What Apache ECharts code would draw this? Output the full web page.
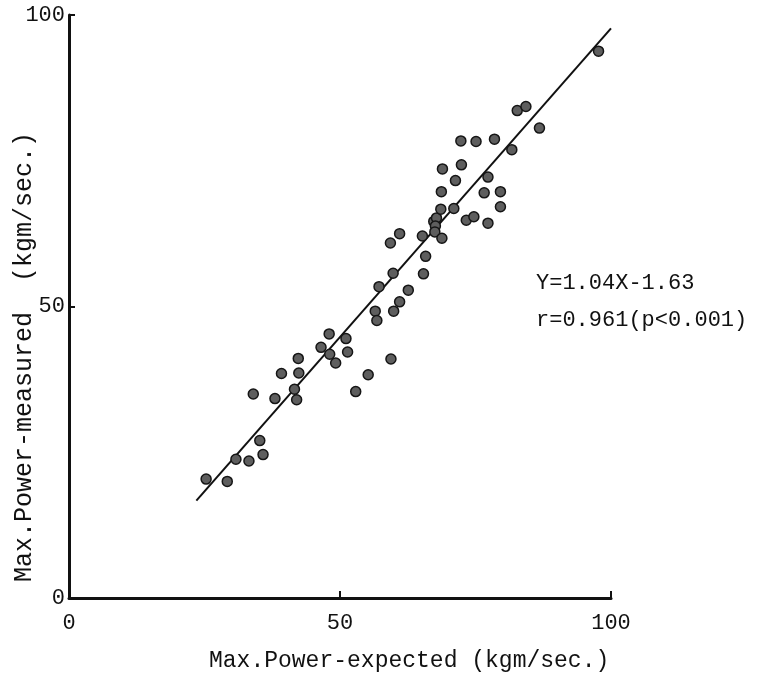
<!DOCTYPE html>
<html>
<head>
<meta charset="utf-8">
<script src="https://cdn.jsdelivr.net/npm/echarts@6/dist/echarts.min.js"></script>
<style>
html,body{margin:0;padding:0;background:#fff;}
#chart{width:760px;height:675px;}
</style>
</head>
<body>
<div id="chart"></div>
<script>
// Expected max power (x) and measured max power (y), kgm/sec.
const expected = [25.3,29.2,30.8,33.2,35.2,35.8,34.0,38.0,39.2,41.6,42.0,42.4,42.3,46.5,48.0,48.1,49.2,51.1,51.4,52.9,55.2,56.5,56.8,57.2,59.4,59.3,59.8,59.9,61.0,61.0,62.6,65.4,65.8,65.2,67.3,67.8,67.6,67.5,68.8,68.6,68.7,68.9,71.0,71.3,72.4,72.3,73.3,74.7,75.1,76.6,77.3,77.3,78.5,79.6,79.6,81.7,82.7,84.3,86.8,97.7];
const measured = [20.4,20.0,23.8,23.5,27.0,24.6,35.0,34.2,38.5,35.8,34.0,38.6,41.1,43.0,45.3,41.8,40.3,44.5,42.2,35.4,38.3,49.2,47.6,53.4,41.0,60.9,55.7,49.2,50.8,62.5,52.8,55.6,58.6,62.1,64.6,65.2,63.8,62.8,61.7,66.7,69.7,73.6,66.8,71.6,74.3,78.4,64.8,65.4,78.3,69.5,72.2,64.3,78.7,69.7,67.1,76.9,83.6,84.3,80.6,93.8];
// Regression line end points (as drawn)
const fitX = [23.5, 100];
const fitY = [16.7, 97.7];
const xTicks = [0, 50, 100];
const yTicks = [0, 50, 100];
const xTitle = 'Max.Power-expected (kgm/sec.)';
const yTitle = 'Max.Power-measured  (kgm/sec.)';
const eqLines = ['Y=1.04X-1.63', 'r=0.961(p<0.001)'];

const FONT = '"Liberation Mono", "DejaVu Sans Mono", monospace';
const points = expected.map((x, i) => [x, measured[i]]);
const fit = fitX.map((x, i) => [x, fitY[i]]);

const chart = echarts.init(document.getElementById('chart'), null, {renderer: 'canvas'});
chart.setOption({
  animation: false,
  backgroundColor: '#ffffff',
  grid: {left: 69, right: 149, top: 15, bottom: 77, containLabel: false},
  xAxis: {
    type: 'value', min: 0, max: 100, interval: 50,
    axisLine: {show: true, lineStyle: {color: '#111', width: 3}},
    axisTick: {show: true, inside: true, length: 7, lineStyle: {color: '#111', width: 2}},
    axisLabel: {color: '#111', fontFamily: FONT, fontSize: 22, margin: 14,
      formatter: v => xTicks.includes(v) ? String(v) : ''},
    splitLine: {show: false}
  },
  yAxis: {
    type: 'value', min: 0, max: 100, interval: 50,
    axisLine: {show: true, lineStyle: {color: '#111', width: 3}},
    axisTick: {show: true, inside: true, length: 6, lineStyle: {color: '#111', width: 2}},
    axisLabel: {color: '#111', fontFamily: FONT, fontSize: 22, margin: 4,
      formatter: v => yTicks.includes(v) ? String(v) : ''},
    splitLine: {show: false}
  },
  series: [
    {
      type: 'line', data: fit, showSymbol: false, symbol: 'none',
      lineStyle: {color: '#111', width: 2}, z: 2, silent: true
    },
    {
      type: 'scatter', data: points, symbol: 'circle', symbolSize: 10,
      itemStyle: {color: '#5e5e5e', borderColor: '#151515', borderWidth: 1.5, opacity: 1}, z: 3
    }
  ],
  graphic: [
    {type: 'text', left: 209, top: 649,
      style: {text: xTitle, font: '23px ' + FONT, fill: '#111'}},
    {type: 'text', x: 24, y: 582, rotation: Math.PI / 2,
      style: {text: yTitle, font: '25px ' + FONT, fill: '#111', textAlign: 'left', textVerticalAlign: 'middle'}},
    {type: 'text', left: 536, top: 272,
      style: {text: eqLines[0], font: '22px ' + FONT, fill: '#111'}},
    {type: 'text', left: 536, top: 309,
      style: {text: eqLines[1], font: '22px ' + FONT, fill: '#111'}}
  ]
});
</script>
</body>
</html>
